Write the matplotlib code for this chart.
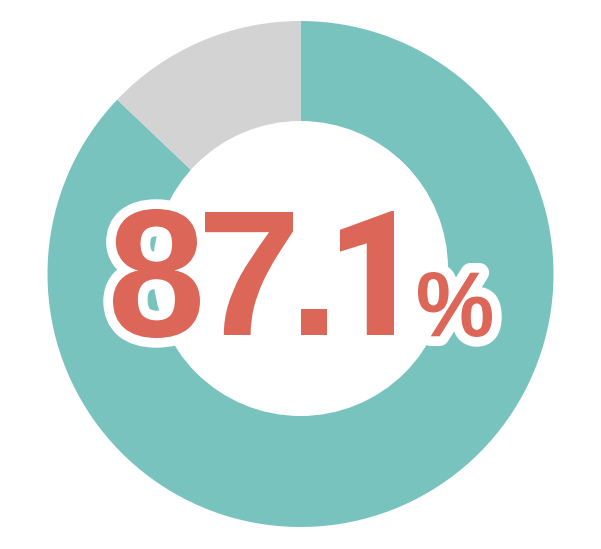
import matplotlib
matplotlib.use("Agg")
import matplotlib.pyplot as plt
from matplotlib.patches import Circle, PathPatch
from matplotlib.textpath import TextPath
from matplotlib.font_manager import FontProperties
from matplotlib.transforms import Affine2D

labels = ["該当", "非該当"]
values = [87.1, 12.9]
colors = ["#78c3be", "#d3d3d3"]
value_text = "87.1"
unit_text = "%"

W, H = 601, 549
fig = plt.figure(figsize=(W / 100, H / 100), dpi=100)
ax = fig.add_axes([0, 0, 1, 1])

ax.pie(values, colors=colors, startangle=90, counterclock=False,
       center=(300.5, 275), radius=253, frame=True,
       wedgeprops=dict(linewidth=0))
# hole sits a bit higher than the ring centre in the reference
ax.add_patch(Circle((300.5, 280.5), 147.5, color="white", lw=0, zorder=3))
ax.set_xlim(0, W)
ax.set_ylim(0, H)
ax.set_aspect("equal")
ax.axis("off")

red = "#dc6657"
fp = FontProperties(family="Liberation Sans", weight="bold")
fp_one = FontProperties(family="Roboto", weight="heavy")  # "1" without a foot

# ink boxes of each glyph in the reference (left, right, top, bottom; px from top-left)
boxes = [(113, 200, 209, 338),
         (205, 293, 212, 335),
         (301, 327, 309, 335),
         (340, 394, 211, 335),
         (418, 492, 272, 337)]
glyphs = list(value_text) + [unit_text]

paths = []
for ch, (x0, x1, y0, y1) in zip(glyphs, boxes):
    p = TextPath((0, 0), ch, size=100, prop=fp_one if ch == "1" else fp)
    e = p.get_extents()
    tr = (Affine2D().translate(-e.x0, -e.y0)
          .scale((x1 - x0) / e.width, (y1 - y0) / e.height)
          .translate(x0, H - y1))
    paths.append(tr.transform_path(p))

# white outline first, red fill over it
for p in paths:
    ax.add_patch(PathPatch(p, facecolor="white", edgecolor="white", lw=14,
                           joinstyle="round", capstyle="round", zorder=4))
for p in paths:
    ax.add_patch(PathPatch(p, facecolor=red, lw=0, zorder=5))

fig.savefig("out.png", dpi=100)
